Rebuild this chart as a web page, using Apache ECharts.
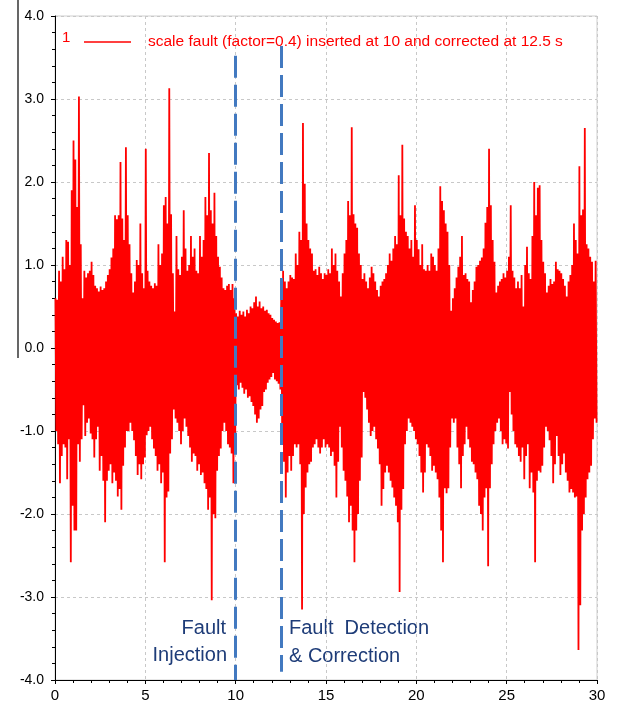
<!DOCTYPE html>
<html><head><meta charset="utf-8">
<script src="https://cdn.jsdelivr.net/npm/echarts@6/dist/echarts.min.js"></script>
<style>html,body{margin:0;padding:0;background:#fff}#c{width:617px;height:716px}</style>
</head><body><div id="c"></div>
<script>
// Signal envelope, one max/min pair per 0.1 s bin (0..30 s)
const binWidth = 0.1;
const upper = [
0.6,0.58,0.93,0.8,1.1,0.95,1.3,1.28,1.0,1.9,
2.5,2.27,1.7,3.03,1.25,0.6,0.93,0.85,0.9,0.93,
1.04,0.88,0.75,0.72,0.68,0.74,0.7,0.72,0.8,0.88,
0.95,1.09,1.2,1.6,1.55,1.6,2.24,1.56,1.3,2.42,
1.6,1.25,0.9,0.67,0.8,1.06,1.0,1.5,0.9,0.72,
2.4,0.93,0.8,0.75,0.72,0.78,0.75,1.25,1.0,1.14,
1.72,1.82,1.5,3.13,1.61,0.9,0.44,1.35,0.95,0.88,
1.1,1.66,1.2,0.93,1.0,1.35,1.1,1.2,0.93,0.9,
1.35,1.1,1.3,1.82,1.6,2.35,1.66,1.5,1.87,1.35,
1.1,0.98,0.85,0.72,0.7,0.75,0.77,0.7,0.77,0.6,
0.42,0.38,0.45,0.4,0.44,0.38,0.46,0.42,0.5,0.48,
0.55,0.62,0.5,0.56,0.48,0.5,0.45,0.46,0.42,0.4,
0.36,0.34,0.32,0.3,0.31,0.7,0.93,0.8,0.72,0.8,
0.88,0.85,0.83,1.14,1.0,1.4,1.3,2.71,1.98,1.5,
1.3,1.2,1.14,0.93,0.95,0.88,0.98,0.9,0.83,0.9,
0.88,0.95,0.9,1.2,1.0,1.14,0.93,0.8,0.62,0.9,
1.14,1.3,1.77,1.6,2.66,1.61,1.5,1.45,1.14,1.0,
0.83,0.9,0.8,0.72,0.85,0.98,0.9,0.8,0.7,0.62,
0.75,0.8,0.83,0.9,1.0,1.14,1.05,1.2,1.35,1.25,
2.08,1.6,2.45,1.56,1.4,1.35,1.2,1.3,1.1,1.72,
1.3,1.19,1.0,1.25,0.95,0.93,1.0,0.93,1.14,1.1,
1.0,0.93,1.2,1.95,1.77,1.66,1.5,1.4,1.0,0.45,
0.6,0.72,0.85,0.98,1.1,1.35,0.88,0.9,0.83,0.8,
0.55,0.7,0.8,0.98,1.0,1.05,1.09,1.2,1.51,1.7,
2.4,1.72,1.3,1.04,0.67,0.75,0.8,0.83,0.9,0.85,
0.93,1.1,1.72,0.93,0.85,0.72,0.8,0.72,0.88,0.5,
1.0,1.22,0.9,0.83,1.35,2.0,1.6,1.93,1.96,1.3,
1.04,0.9,0.67,0.75,0.83,0.77,0.8,1.04,0.95,0.93,
0.9,0.83,0.75,0.62,0.8,0.88,1.0,1.5,1.3,1.14,
2.19,1.6,1.67,2.65,1.25,1.2,1.1,1.04,0.8,1.05
];
const lower = [
-1.0,-1.16,-1.63,-1.3,-1.16,-1.2,-1.58,-1.1,-2.58,-1.9,
-2.2,-2.2,-1.16,-1.37,-1.1,-0.69,-1.06,-0.9,-0.85,-1.03,
-1.1,-1.32,-1.1,-0.95,-1.48,-1.3,-1.6,-2.1,-1.6,-1.48,
-1.4,-1.63,-1.5,-1.6,-1.79,-1.7,-1.95,-1.42,-1.2,-1.0,
-1.0,-0.9,-1.0,-1.11,-1.3,-1.53,-1.4,-1.58,-1.4,-1.32,
-1.05,-1.0,-0.95,-1.1,-1.21,-1.3,-1.48,-1.4,-1.63,-1.5,
-2.58,-1.8,-1.73,-1.27,-1.1,-0.74,-0.85,-0.9,-1.0,-1.16,
-1.0,-0.85,-0.95,-1.06,-1.2,-1.37,-1.27,-1.3,-1.48,-1.4,
-1.53,-1.5,-1.63,-1.7,-1.95,-1.8,-3.04,-2.0,-2.05,-1.48,
-1.3,-1.21,-1.0,-0.9,-1.0,-1.16,-1.2,-1.27,-1.63,-1.06,
-0.45,-0.5,-0.42,-0.48,-0.55,-0.5,-0.6,-0.58,-0.65,-0.7,
-0.8,-0.9,-0.85,-0.74,-0.7,-0.53,-0.5,-0.42,-0.38,-0.35,
-0.3,-0.38,-0.4,-0.43,-0.5,-1.0,-1.37,-1.8,-1.5,-1.3,
-1.48,-1.3,-1.16,-1.2,-1.16,-1.4,-3.15,-2.0,-1.68,-1.5,
-1.4,-1.37,-1.2,-1.16,-1.1,-1.2,-1.27,-1.2,-1.1,-1.2,
-1.16,-1.2,-1.3,-1.25,-1.42,-1.8,-1.37,-0.95,-1.2,-1.48,
-1.6,-1.79,-2.1,-1.9,-2.2,-2.58,-2.2,-2.0,-1.6,-1.32,
-0.53,-0.6,-0.74,-0.9,-1.06,-1.0,-0.95,-1.1,-1.21,-1.4,
-1.9,-1.7,-1.5,-1.42,-1.5,-1.6,-1.68,-1.8,-1.9,-2.1,
-2.94,-1.95,-1.7,-1.16,-1.0,-0.85,-0.9,-0.95,-1.0,-1.1,
-1.16,-1.3,-1.5,-1.74,-1.5,-1.16,-1.2,-1.3,-1.48,-1.42,
-1.5,-1.58,-1.8,-2.2,-2.58,-1.69,-1.75,-1.69,-1.2,-0.85,
-0.9,-0.85,-1.2,-1.4,-1.69,-1.3,-1.16,-0.95,-1.1,-1.2,
-1.37,-1.4,-1.5,-1.58,-1.9,-2.0,-2.2,-1.8,-1.69,-2.63,
-1.69,-1.4,-1.16,-1.0,-0.9,-0.85,-1.0,-1.16,-1.1,-1.15,
-1.21,-0.53,-0.8,-1.0,-1.16,-1.2,-1.3,-1.37,-1.2,-1.58,
-1.3,-1.16,-1.69,-1.5,-1.74,-2.58,-1.6,-1.48,-1.5,-1.42,
-1.2,-0.95,-1.0,-1.11,-1.3,-1.63,-1.4,-1.06,-1.3,-1.53,
-1.4,-1.27,-1.5,-1.6,-1.74,-1.7,-1.74,-1.8,-1.79,-3.64,
-3.1,-2.2,-2.0,-1.8,-1.58,-1.5,-1.42,-1.1,-0.85,-0.9
];
const seriesName = 'scale fault (factor=0.4) inserted at 10 and corrected at 12.5 s';
const faultStart = 10, faultEnd = 12.5;
const injectionLines = ['Fault', 'Injection'];
const correctionLines = ['Fault  Detection', '& Correction'];

const signal = [];
for (let i = 0; i < upper.length; i++) {
  signal.push([i * binWidth + 0.025, upper[i]]);
  signal.push([i * binWidth + 0.075, lower[i]]);
}

const chart = echarts.init(document.getElementById('c'), null, {renderer: 'canvas'});
const navy = '#1e3c78';
const font = 'Arial, "Liberation Sans", sans-serif';
chart.setOption({
  animation: false,
  backgroundColor: '#fff',
  grid: {left: 55, right: 20, top: 16, bottom: 36, show: true, borderColor: '#cfcfcf', borderWidth: 1},
  legend: {
    left: 79, top: 29, icon: 'rect', itemWidth: 47, itemHeight: 1.5,
    textStyle: {color: '#ff0000', fontSize: 15.5, fontFamily: font, padding: [0, 0, 0, 12]},
    data: [seriesName]
  },
  xAxis: {
    type: 'value', min: 0, max: 30, interval: 5,
    axisLine: {show: true, onZero: false, lineStyle: {color: '#000', width: 1}},
    axisTick: {show: true, length: 4, lineStyle: {color: '#000'}},
    minorTick: {show: true, splitNumber: 5, length: 3, lineStyle: {color: '#000'}},
    splitLine: {show: true, lineStyle: {color: '#c8c8c8', type: [3, 3]}},
    axisLabel: {color: '#000', fontSize: 15, fontFamily: font, margin: 8}
  },
  yAxis: {
    type: 'value', min: -4, max: 4, interval: 1,
    axisLine: {show: true, onZero: false, lineStyle: {color: '#000', width: 1}},
    axisTick: {show: true, length: 4, lineStyle: {color: '#000'}},
    minorTick: {show: true, splitNumber: 5, length: 3, lineStyle: {color: '#000'}},
    splitLine: {show: true, lineStyle: {color: '#c8c8c8', type: [3, 3]}},
    axisLabel: {color: '#000', fontSize: 14, fontFamily: font, margin: 11,
      formatter: v => v.toFixed(1)}
  },
  series: [{
    name: seriesName, type: 'line', data: signal, showSymbol: false, symbol: 'none',
    sampling: null, lineStyle: {color: '#ff0000', width: 1.8}, itemStyle: {color: '#ff0000'},
    markLine: {
      silent: true, symbol: 'none', label: {show: false},
      lineStyle: {color: '#4279c0', width: 3, type: [22, 7]},
      data: [
        [{coord: [faultStart, 3.52]}, {coord: [faultStart, -4]}],
        [{coord: [faultEnd, 3.64]}, {coord: [faultEnd, -3.9]}]
      ]
    }
  }],
  graphic: [
    {type: 'line', shape: {x1: 18, y1: 0, x2: 18, y2: 358}, style: {stroke: '#000', lineWidth: 1.2}},
    {type: 'text', left: 62, top: 30, style: {text: '1', fill: '#ff0000', font: '15px ' + font}},
    {type: 'text', x: 226, y: 628, style: {text: injectionLines[0], fill: navy, font: '20px ' + font, textAlign: 'right', textVerticalAlign: 'middle'}},
    {type: 'text', x: 227, y: 655, style: {text: injectionLines[1], fill: navy, font: '20px ' + font, textAlign: 'right', textVerticalAlign: 'middle'}},
    {type: 'text', x: 289, y: 628, style: {text: correctionLines[0], fill: navy, font: '20px ' + font, textAlign: 'left', textVerticalAlign: 'middle'}},
    {type: 'text', x: 289, y: 656, style: {text: correctionLines[1], fill: navy, font: '20px ' + font, textAlign: 'left', textVerticalAlign: 'middle'}}
  ]
});
</script></body></html>
